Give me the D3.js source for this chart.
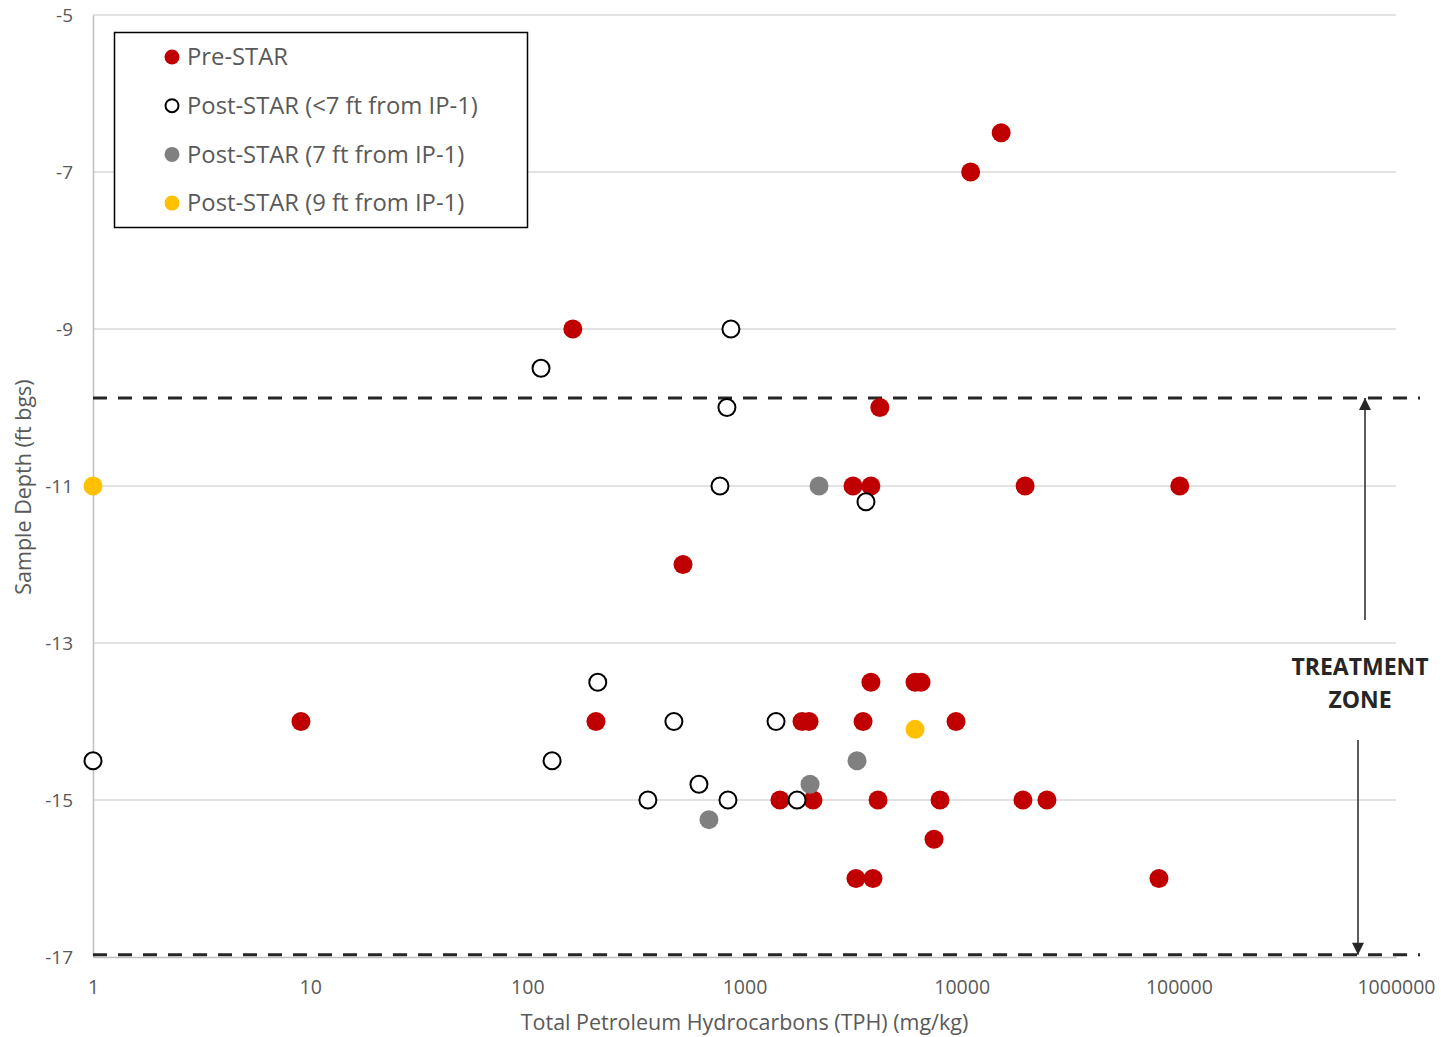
<!DOCTYPE html>
<html>
<head>
<meta charset="utf-8">
<script src="https://cdn.jsdelivr.net/npm/d3@7"></script>
<style>
  html, body { margin: 0; padding: 0; background: #fff; }
  svg { display: block; font-family: "Open Sans", Lato, sans-serif; }
</style>
</head>
<body>
<svg id="chart" width="1441" height="1037"></svg>
<script>
// TPH (mg/kg) and sample depth (ft bgs) for each sampling group
const preStarTph = [15200, 11000, 162, 4200, 3160, 3820, 19600, 101000, 521, 9.07, 207, 1840, 1983, 3515, 9420, 3820, 6100, 6500, 1456, 2067, 4120, 7950, 19150, 24700, 7460, 3260, 3905, 81000];
const preStarDepth = [-6.5, -7, -9, -10, -11, -11, -11, -11, -12, -14, -14, -14, -14, -14, -14, -13.5, -13.5, -13.5, -15, -15, -15, -15, -15, -15, -15.5, -16, -16, -16];

const postNearTph = [1, 115.6, 866, 830, 771, 3625, 211, 130, 473, 1397, 359, 617, 839, 1746];
const postNearDepth = [-14.5, -9.5, -9, -10, -11, -11.2, -13.5, -14.5, -14, -14, -15, -14.8, -15, -15];

const post7Tph = [2204, 3297, 2003, 686];
const post7Depth = [-11, -14.5, -14.8, -15.25];

const post9Tph = [1, 6100];
const post9Depth = [-11, -14.1];

const seriesNames = ["Pre-STAR", "Post-STAR (<7 ft from IP-1)", "Post-STAR (7 ft from IP-1)", "Post-STAR (9 ft from IP-1)"];
const xTickValues = [1, 10, 100, 1000, 10000, 100000, 1000000];
const yTickValues = [-5, -7, -9, -11, -13, -15, -17];
const treatmentZone = [-9.88, -16.97];

const series = [
  { name: seriesNames[0], x: preStarTph, y: preStarDepth, fill: "#c00000", stroke: "none" },
  { name: seriesNames[1], x: postNearTph, y: postNearDepth, fill: "#ffffff", stroke: "#000000" },
  { name: seriesNames[2], x: post7Tph, y: post7Depth, fill: "#808080", stroke: "none" },
  { name: seriesNames[3], x: post9Tph, y: post9Depth, fill: "#ffc000", stroke: "none" }
];

const svg = d3.select("#chart");
const plot = { left: 93, right: 1396, top: 15, bottom: 957 };

const x = d3.scaleLog().domain([1, 1000000]).range([plot.left, plot.right]);
const y = d3.scaleLinear().domain([-5, -17]).range([plot.top, plot.bottom]);

// horizontal gridlines
svg.append("g")
  .selectAll("line")
  .data(yTickValues.filter(v => v !== -17))
  .join("line")
  .attr("x1", plot.left).attr("x2", plot.right)
  .attr("y1", d => y(d)).attr("y2", d => y(d))
  .attr("stroke", "#d9d9d9").attr("stroke-width", 1.5);

// plain hyphen-minus labels
const plainNumber = d => String(d);

// y axis
const yAxis = svg.append("g")
  .attr("transform", `translate(${plot.left},0)`)
  .call(d3.axisLeft(y).tickValues(yTickValues).tickSize(0).tickPadding(20).tickFormat(plainNumber));
yAxis.select(".domain").attr("stroke", "#bfbfbf").attr("stroke-width", 1.5);
yAxis.selectAll("text").attr("font-size", 19).attr("fill", "#595959").attr("font-family", "'Open Sans', sans-serif");

// x axis
const xAxis = svg.append("g")
  .attr("transform", `translate(0,${plot.bottom})`)
  .call(d3.axisBottom(x).tickValues(xTickValues).tickSize(0).tickPadding(23).tickFormat(plainNumber));
xAxis.select(".domain").attr("stroke", "#bfbfbf").attr("stroke-width", 1.5);
xAxis.selectAll("text").attr("font-size", 19.5).attr("fill", "#595959").attr("font-family", "'Open Sans', sans-serif");

// axis titles
svg.append("text")
  .attr("x", (plot.left + plot.right) / 2).attr("y", 1030)
  .attr("text-anchor", "middle")
  .attr("font-size", 21.5).attr("fill", "#595959")
  .text("Total Petroleum Hydrocarbons (TPH) (mg/kg)");

svg.append("text")
  .attr("transform", `translate(31,${487}) rotate(-90)`)
  .attr("text-anchor", "middle")
  .attr("font-size", 21.5).attr("fill", "#595959")
  .text("Sample Depth (ft bgs)");

// treatment zone boundaries
svg.append("g")
  .selectAll("line")
  .data(treatmentZone)
  .join("line")
  .attr("x1", plot.left).attr("x2", 1420)
  .attr("y1", d => y(d)).attr("y2", d => y(d))
  .attr("stroke", "#262626").attr("stroke-width", 3)
  .attr("stroke-dasharray", "14,11");

// arrow markers
const defs = svg.append("defs");
defs.append("marker")
  .attr("id", "arrowHead")
  .attr("viewBox", "0 0 10 10")
  .attr("refX", 10).attr("refY", 5)
  .attr("markerWidth", 13).attr("markerHeight", 12)
  .attr("markerUnits", "userSpaceOnUse")
  .attr("orient", "auto")
  .append("path").attr("d", "M0,0 L10,5 L0,10 Z").attr("fill", "#262626");

svg.append("line")
  .attr("x1", 1365).attr("x2", 1365)
  .attr("y1", 620).attr("y2", y(treatmentZone[0]))
  .attr("stroke", "#262626").attr("stroke-width", 1.5)
  .attr("marker-end", "url(#arrowHead)");

svg.append("line")
  .attr("x1", 1358).attr("x2", 1358)
  .attr("y1", 740).attr("y2", y(treatmentZone[1]))
  .attr("stroke", "#262626").attr("stroke-width", 1.5)
  .attr("marker-end", "url(#arrowHead)");

const zoneLabel = svg.append("text")
  .attr("text-anchor", "middle")
  .attr("font-size", 23).attr("font-weight", "bold").attr("fill", "#262626");
zoneLabel.append("tspan").attr("x", 1360).attr("y", 675).text("TREATMENT");
zoneLabel.append("tspan").attr("x", 1360).attr("y", 708).text("ZONE");

// data points
series.forEach(s => {
  const pts = s.x.map((v, i) => [v, s.y[i]]);
  svg.append("g")
    .selectAll("circle")
    .data(pts)
    .join("circle")
    .attr("cx", d => x(d[0]))
    .attr("cy", d => y(d[1]))
    .attr("r", s.stroke === "none" ? 9.5 : 8.5)
    .attr("fill", s.fill)
    .attr("stroke", s.stroke)
    .attr("stroke-width", 2);
});

// legend
const legend = svg.append("g");
legend.append("rect")
  .attr("x", 114.5).attr("y", 32.5).attr("width", 413).attr("height", 195)
  .attr("fill", "#fff").attr("stroke", "#000").attr("stroke-width", 1.5);

const legendRows = legend.selectAll("g.row")
  .data(series)
  .join("g")
  .attr("class", "row")
  .attr("transform", (d, i) => `translate(172,${57 + i * 48.7})`);

legendRows.append("circle")
  .attr("r", d => d.stroke === "none" ? 7.5 : 6.5)
  .attr("fill", d => d.fill)
  .attr("stroke", d => d.stroke)
  .attr("stroke-width", 2);

legendRows.append("text")
  .attr("x", 15).attr("dy", "0.35em")
  .attr("font-size", 23.8).attr("fill", "#595959")
  .text(d => d.name);
</script>
</body>
</html>
